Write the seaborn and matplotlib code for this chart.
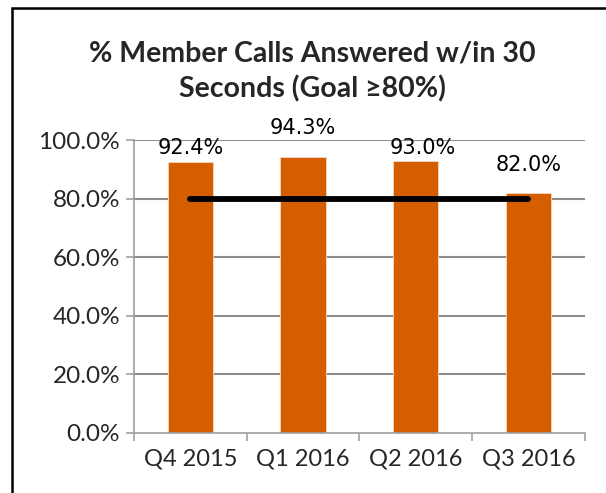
import pandas as pd
import matplotlib.pyplot as plt
import seaborn as sns
from matplotlib.patches import Rectangle
from matplotlib.ticker import PercentFormatter

# Data
quarters = ["Q4 2015", "Q1 2016", "Q2 2016", "Q3 2016"]
answered = [92.4, 94.3, 93.0, 82.0]
goal = [80, 80, 80, 80]

df = pd.DataFrame({"quarter": quarters, "answered": answered, "goal": goal})

sns.set_style("white")
plt.rcParams["font.family"] = ["Lato", "DejaVu Sans"]

fig = plt.figure(figsize=(6.06, 4.93), dpi=100)
ax = fig.add_axes([0.221, 0.122, 0.744, 0.594])

# horizontal gridlines behind the bars
for yv in range(20, 101, 20):
    ax.axhline(yv, color="#8C8C8C", linewidth=1.5, zorder=1)

sns.barplot(data=df, x="quarter", y="answered", color="#D55E00",
            width=0.4, saturation=1, edgecolor="#F6D9C4", linewidth=0.6,
            ax=ax, zorder=2)
sns.lineplot(data=df, x="quarter", y="goal", color="black", linewidth=4.2,
             solid_capstyle="round", ax=ax, zorder=3)

# data labels (placed like the original, not all at the same height)
label_offsets = [(0, 10), (0, 21), (5, 9), (0, 20)]
for i, (v, off) in enumerate(zip(answered, label_offsets)):
    ax.annotate(f"{v:.1f}%", (i, v), xytext=off, textcoords="offset points",
                ha="center", va="center", fontsize=15, family="DejaVu Sans",
                color="black", zorder=4, annotation_clip=False)

ax.set_ylim(0, 100)
ax.set_xlim(-0.5, len(quarters) - 0.5)
ax.set_yticks(range(0, 101, 20))
ax.yaxis.set_major_formatter(PercentFormatter(decimals=1))
ax.set_xlabel("")
ax.set_ylabel("")

for s in ["top", "right"]:
    ax.spines[s].set_visible(False)
for s in ["left", "bottom"]:
    ax.spines[s].set_color("#A0A0A0")
    ax.spines[s].set_linewidth(1.2)

ax.set_xticks([-0.5, 0.5, 1.5, 2.5, 3.5], minor=False)
ax.set_xticklabels([])
ax.set_xticks(range(len(quarters)), minor=True)
ax.set_xticklabels(quarters, minor=True)
ax.tick_params(axis="x", which="major", length=6, width=1.2, color="#A0A0A0",
               direction="out", bottom=True)
ax.tick_params(axis="x", which="minor", length=0, pad=11, labelsize=17)
ax.tick_params(axis="y", length=6, width=1.2, color="#A0A0A0", direction="out",
               left=True, labelsize=17.5, pad=4)

fig.text(0.515, 0.855, "% Member Calls Answered w/in 30\nSeconds (Goal \u226580%)",
         ha="center", va="center", fontsize=20.5, fontweight="bold",
         linespacing=1.42)

# chart border (only top and left edges are inside the picture)
fig.add_artist(Rectangle((12 / 606, -0.1), 1.2, 0.1 + 1 - 8 / 493,
                         transform=fig.transFigure, fill=False,
                         edgecolor="black", linewidth=1.8, zorder=10))

plt.savefig("out.png", dpi=100)
plt.close()
